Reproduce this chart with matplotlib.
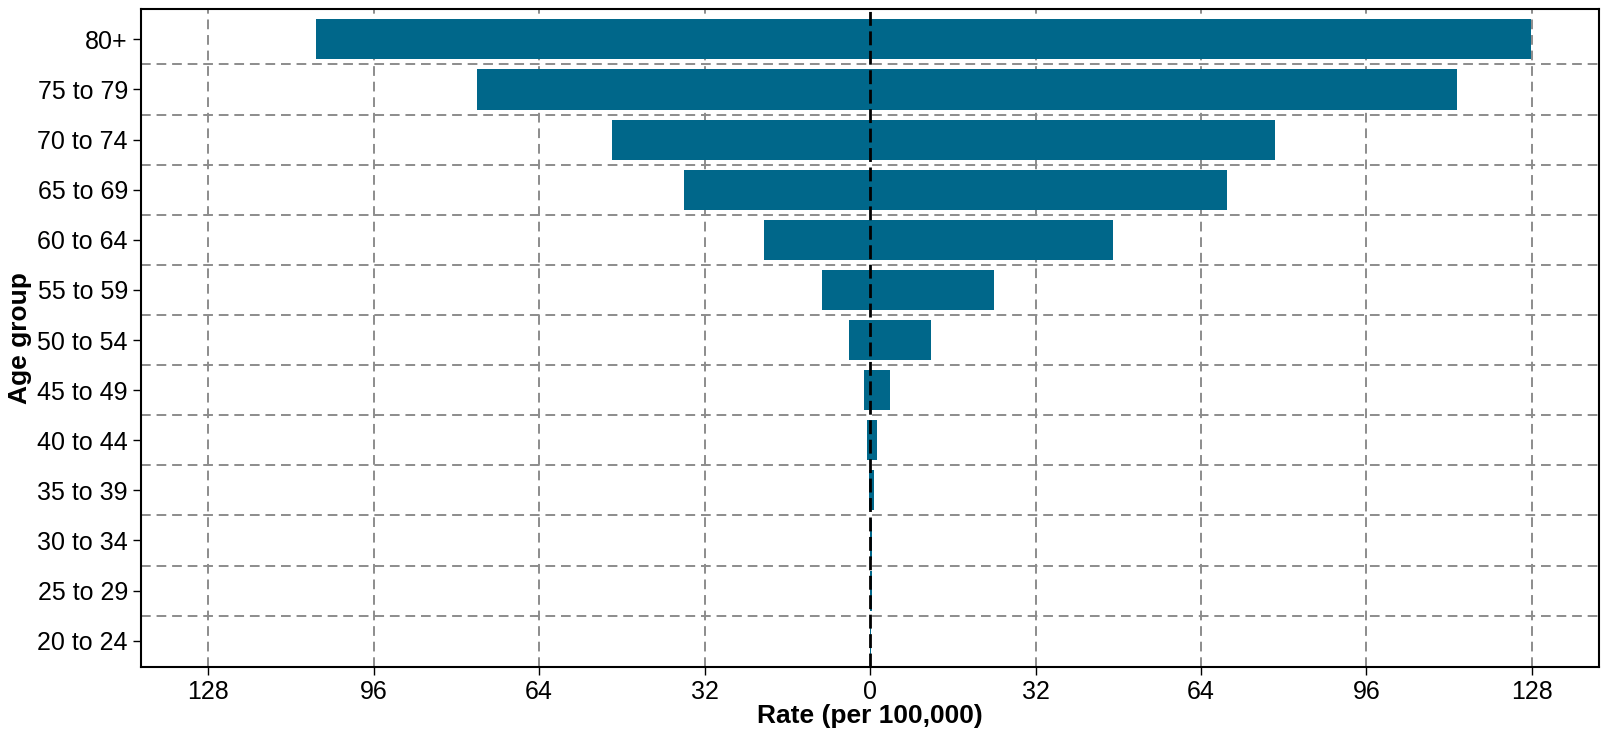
import matplotlib
matplotlib.use("Agg")
import matplotlib.pyplot as plt
import numpy as np

plt.rcParams["font.family"] = ["Liberation Sans", "DejaVu Sans"]

age_groups = ["20 to 24", "25 to 29", "30 to 34", "35 to 39", "40 to 44",
              "45 to 49", "50 to 54", "55 to 59", "60 to 64", "65 to 69",
              "70 to 74", "75 to 79", "80+"]
# left side (plotted as negative) and right side rates per 100,000
left_rate = [0.05, 0.1, 0.1, 0.3, 0.5, 1.25, 4.1, 9.3, 20.5, 35.9, 49.9, 76.0, 107.1]
right_rate = [0.2, 0.35, 0.4, 0.7, 1.25, 3.8, 11.8, 23.9, 47.0, 69.1, 78.3, 113.6, 127.8]
xticks = [-128, -96, -64, -32, 0, 32, 64, 96, 128]

bar_color = "#00678a"
grid_color = "#8c8c8c"

fig = plt.figure(figsize=(16.01, 7.39), dpi=100)
ax = fig.add_axes([0.0881, 0.0978, 0.9107, 0.8896])

y = np.arange(len(age_groups))
ax.barh(y, -np.array(left_rate), height=0.8, color=bar_color, zorder=2)
ax.barh(y, right_rate, height=0.8, color=bar_color, zorder=2)

# grid: vertical at ticks, horizontal between groups
for xt in xticks:
    if xt != 0:
        ax.axvline(xt, color=grid_color, lw=1.4, ls=(0, (5, 3)), zorder=1)
for yb in y[:-1] + 0.5:
    ax.axhline(yb, color=grid_color, lw=1.4, ls=(0, (5, 3)), zorder=1)
ax.axvline(0, color="black", lw=2, ls=(0, (5, 2)), zorder=3)

ax.set_xlim(-141, 141)
ax.set_ylim(-0.52, 12.6)
ax.set_xticks(xticks)
ax.set_xticklabels([str(abs(v)) for v in xticks])
ax.set_yticks(y)
ax.set_yticklabels(age_groups)
ax.tick_params(axis="both", labelsize=18, length=6, width=1, direction="out")

for s in ax.spines.values():
    s.set_linewidth(1.5)

ax.set_xlabel("Rate (per 100,000)", fontsize=19, fontweight="bold", labelpad=0)
ax.set_ylabel("Age group", fontsize=19, fontweight="bold")
ax.yaxis.set_label_coords(-0.0745, 0.5)

fig.savefig("out.png", dpi=100)
